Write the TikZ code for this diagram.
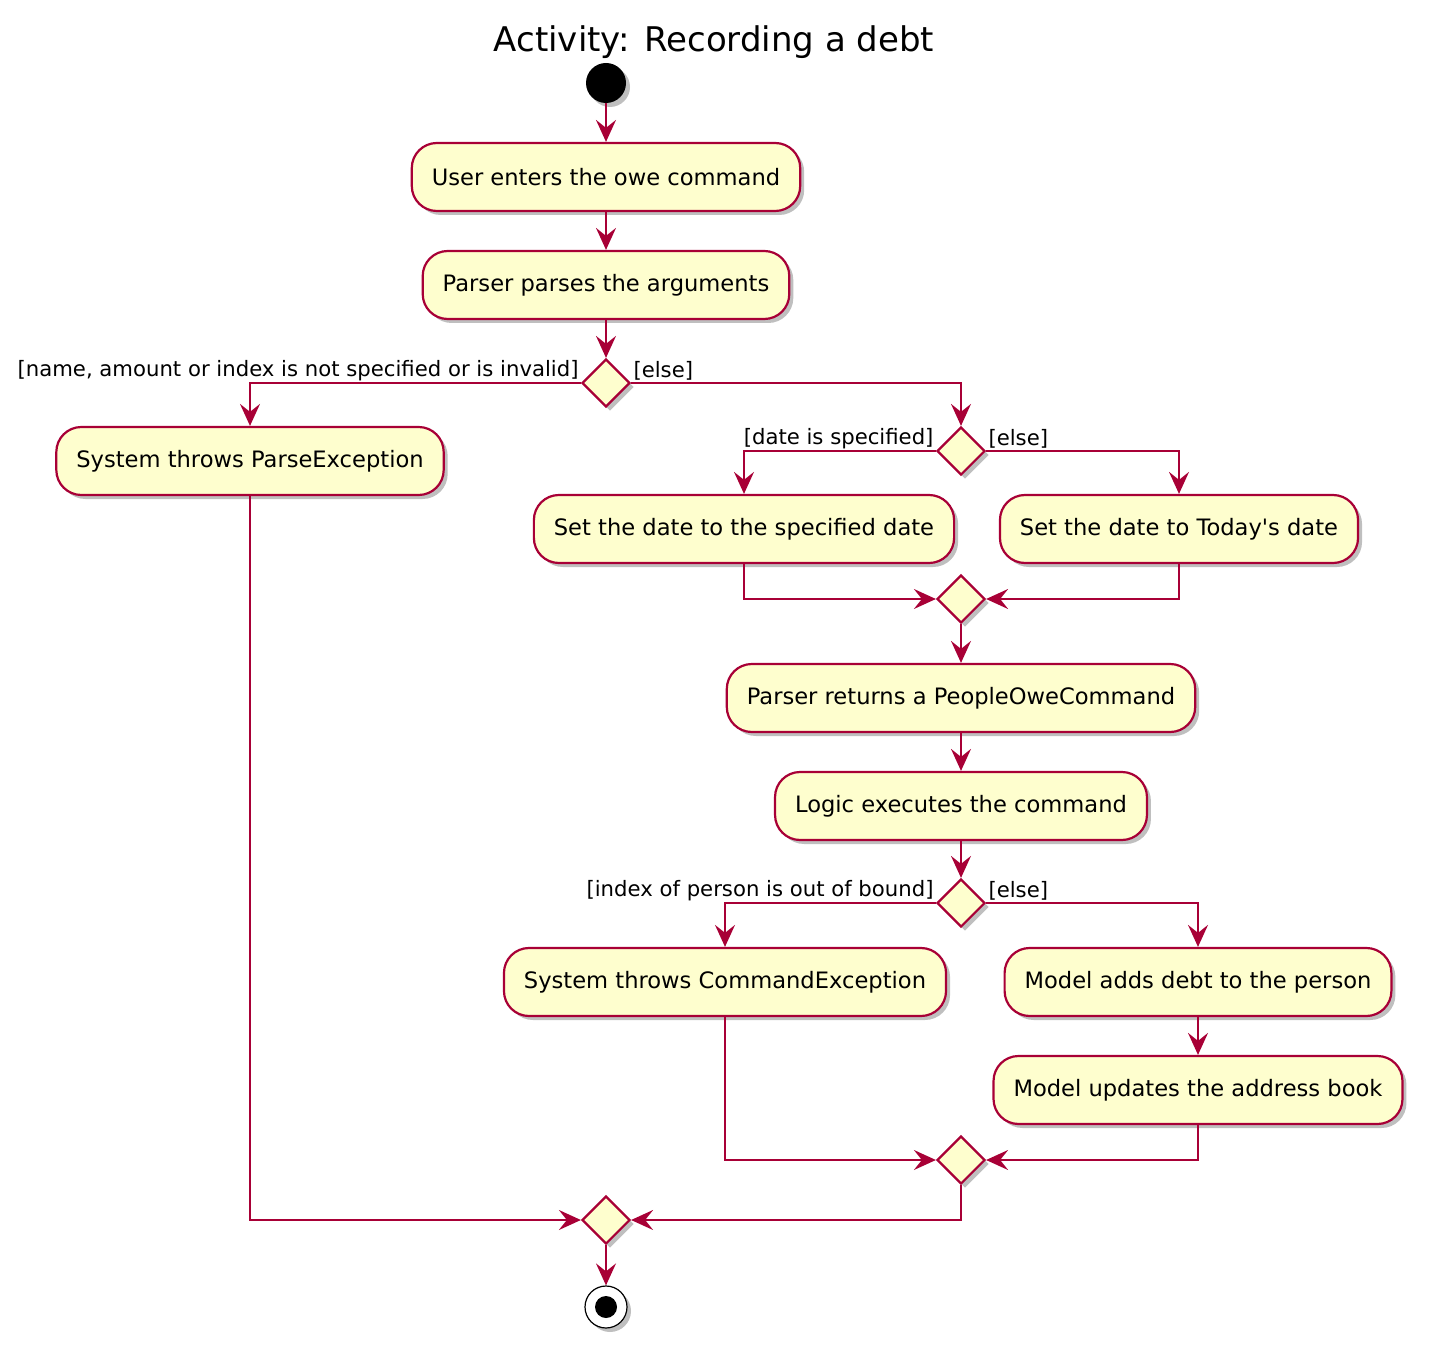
\documentclass[tikz,border=0pt]{standalone}
\usepackage{fontspec}
\setmainfont{DejaVu Sans}
\usetikzlibrary{shapes.geometric,arrows.meta,shadows}

\definecolor{umlred}{HTML}{A80036}
\definecolor{umlfill}{HTML}{FEFECE}

\begin{document}
\begin{tikzpicture}[x=0.5pt, y=-0.5pt,
  shade/.style={drop shadow={shadow xshift=2pt, shadow yshift=-2pt, opacity=0.25, fill=black}},
  act/.style={draw=umlred, fill=umlfill, line width=1.1pt, rounded corners=12.5pt, minimum height=34pt,
    inner xsep=10pt, font=\fontsize{11.3}{13}\selectfont, shade},
  choice/.style={diamond, draw=umlred, fill=umlfill, line width=1.1pt, minimum size=24pt, inner sep=0pt, shade},
  guard/.style={font=\fontsize{10.6}{12}\selectfont, inner sep=1pt},
  flow/.style={draw=umlred, line width=1pt, -{Stealth[length=11pt, width=10pt, inset=4pt]}}]

\useasboundingbox (0,0) rectangle (1430,1348);

\node [font=\fontsize{17}{20}\selectfont] (title) at (714,42) {Activity: Recording a debt};

\node [circle, fill=black, minimum size=20pt, inner sep=0pt, shade] (start) at (606,83) {};

\node [act] (enter) at (606,177) {User enters the owe command};
\node [act] (parse) at (606,285) {Parser parses the arguments};
\node [choice] (valid) at (606,383) {};
\node [act] (parseex) at (250,461) {System throws ParseException};
\node [choice] (hasdate) at (961,451) {};
\node [act] (setdate) at (744,529) {Set the date to the specified date};
\node [act] (today) at (1179,529) {Set the date to Today\textquotesingle s date};
\node [choice] (datemerge) at (961,599) {};
\node [act] (ret) at (961,698) {Parser returns a PeopleOweCommand};
\node [act] (exec) at (961,806) {Logic executes the command};
\node [choice] (bound) at (961,903) {};
\node [act] (cmdex) at (725,982) {System throws CommandException};
\node [act] (adddebt) at (1198,982) {Model adds debt to the person};
\node [act] (update) at (1198,1090) {Model updates the address book};
\node [choice] (execmerge) at (961,1160) {};
\node [choice] (endmerge) at (606,1220) {};

\node [circle, draw=black, fill=white, line width=0.6pt, minimum size=21pt, inner sep=0pt, shade] (stop) at (606,1307) {};
\node [circle, fill=black, minimum size=11pt, inner sep=0pt] (stopdot) at (stop) {};

\node [guard, anchor=south east] (g1) at (valid.west) {[name, amount or index is not specified or is invalid]};
\node [guard, anchor=south west] (g2) at (valid.east) {[else]};
\node [guard, anchor=south east] (g3) at (hasdate.west) {[date is specified]};
\node [guard, anchor=south west] (g4) at (hasdate.east) {[else]};
\node [guard, anchor=south east] (g5) at (bound.west) {[index of person is out of bound]};
\node [guard, anchor=south west] (g6) at (bound.east) {[else]};

\draw [flow] (start) -- (enter);
\draw [flow] (enter) -- (parse);
\draw [flow] (parse) -- (valid);
\draw [flow] (valid.west) -| (parseex.north);
\draw [flow] (valid.east) -| (hasdate.north);
\draw [flow] (hasdate.west) -| (setdate.north);
\draw [flow] (hasdate.east) -| (today.north);
\draw [flow] (setdate.south) |- (datemerge.west);
\draw [flow] (today.south) |- (datemerge.east);
\draw [flow] (datemerge) -- (ret);
\draw [flow] (ret) -- (exec);
\draw [flow] (exec) -- (bound);
\draw [flow] (bound.west) -| (cmdex.north);
\draw [flow] (bound.east) -| (adddebt.north);
\draw [flow] (adddebt) -- (update);
\draw [flow] (cmdex.south) |- (execmerge.west);
\draw [flow] (update.south) |- (execmerge.east);
\draw [flow] (parseex.south) |- (endmerge.west);
\draw [flow] (execmerge.south) |- (endmerge.east);
\draw [flow] (endmerge) -- (stop);
\end{tikzpicture}
\end{document}
